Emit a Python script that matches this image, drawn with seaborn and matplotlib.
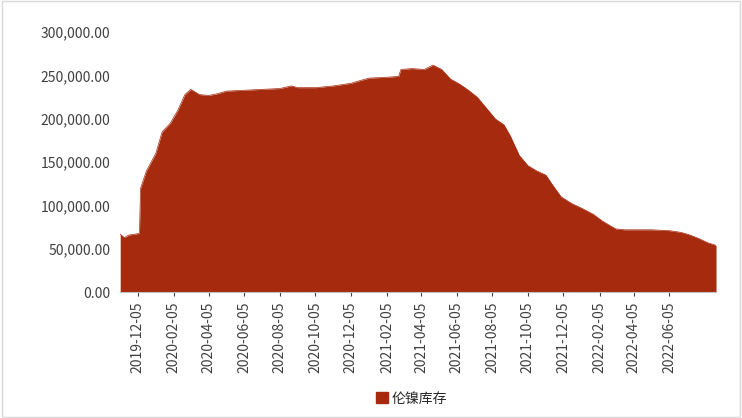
import pandas as pd
import matplotlib.pyplot as plt
import matplotlib.dates as mdates
import seaborn as sns
from matplotlib.ticker import FuncFormatter
from matplotlib.patches import Patch

dates = ["2019-11-05", "2019-11-12", "2019-11-20", "2019-12-01", "2019-12-08", "2019-12-10",
         "2019-12-20", "2020-01-05", "2020-01-16", "2020-01-30", "2020-02-12", "2020-02-24",
         "2020-03-05", "2020-03-20", "2020-04-05", "2020-04-20", "2020-05-05", "2020-06-05",
         "2020-07-05", "2020-08-05", "2020-08-25", "2020-09-05", "2020-10-05", "2020-11-05",
         "2020-12-05", "2020-12-20", "2021-01-05", "2021-02-05", "2021-02-25", "2021-03-01",
         "2021-03-20", "2021-04-10", "2021-04-25", "2021-05-10", "2021-05-25", "2021-06-10",
         "2021-06-25", "2021-07-10", "2021-07-25", "2021-08-10", "2021-08-25", "2021-09-05",
         "2021-09-20", "2021-10-05", "2021-10-20", "2021-11-05", "2021-11-15", "2021-12-01",
         "2021-12-20", "2022-01-05", "2022-01-25", "2022-02-10", "2022-02-25", "2022-03-05",
         "2022-03-20", "2022-04-10", "2022-05-05", "2022-06-05", "2022-06-25", "2022-07-10",
         "2022-07-25", "2022-08-10", "2022-08-24"]
stock = [67000, 63000, 66000, 67000, 68000, 120000,
         140000, 160000, 185000, 195000, 210000, 228000,
         234000, 228000, 227000, 229000, 232000, 233000,
         234000, 235000, 238000, 236000, 236000, 238000,
         241000, 244000, 247000, 248000, 249000, 257000,
         258000, 257000, 262000, 257000, 246000, 240000,
         233000, 225000, 213000, 200000, 193000, 180000,
         158000, 146000, 140000, 135000, 125000, 110000,
         102000, 97000, 90000, 82000, 76000, 73000,
         72000, 72000, 72000, 71000, 69000, 66000,
         62000, 57000, 54000]

df = pd.DataFrame({"date": pd.to_datetime(dates), "stock": stock})

sns.set_style("white")
plt.rcParams['font.family'] = ['Noto Sans CJK SC', 'DejaVu Sans']
color = "#a52a0e"

fig = plt.figure(figsize=(7.42, 4.18), dpi=100)
ax = fig.add_axes([0.162, 0.301, 0.803, 0.622])
sns.lineplot(data=df, x="date", y="stock", ax=ax, color=color, linewidth=0.5)
ax.fill_between(df["date"], df["stock"], color=color, linewidth=0)

ax.set_ylim(0, 300000)
ax.set_xlim(df["date"].iloc[0], df["date"].iloc[-1])
ax.yaxis.set_major_formatter(FuncFormatter(lambda v, p: f"{v:,.2f}"))
ticks = pd.date_range("2019-11-05", "2022-07-05", freq="2MS") + pd.Timedelta(days=4)
ax.set_xticks(ticks)
ax.xaxis.set_major_formatter(mdates.DateFormatter("%Y-%m-%d"))
ax.tick_params(axis="x", rotation=90, labelsize=10, colors="#404040", length=3, bottom=True)
ax.tick_params(axis="y", labelsize=10, colors="#404040")
for s in ["top", "right", "left"]:
    ax.spines[s].set_visible(False)
ax.spines["bottom"].set_color("#bfbfbf")
ax.set_xlabel("")
ax.set_ylabel("")

fig.legend(handles=[Patch(color=color, label="伦镍库存")], loc="lower center",
           bbox_to_anchor=(0.555, 0.0), frameon=False, fontsize=10,
           handlelength=0.8, handleheight=0.8, handletextpad=0.3)
fig.patches.append(plt.Rectangle((0.003, 0.003), 0.994, 0.994, transform=fig.transFigure,
                                 fill=False, edgecolor="#d9d9d9", linewidth=1))
fig.savefig("out.png", dpi=100)
